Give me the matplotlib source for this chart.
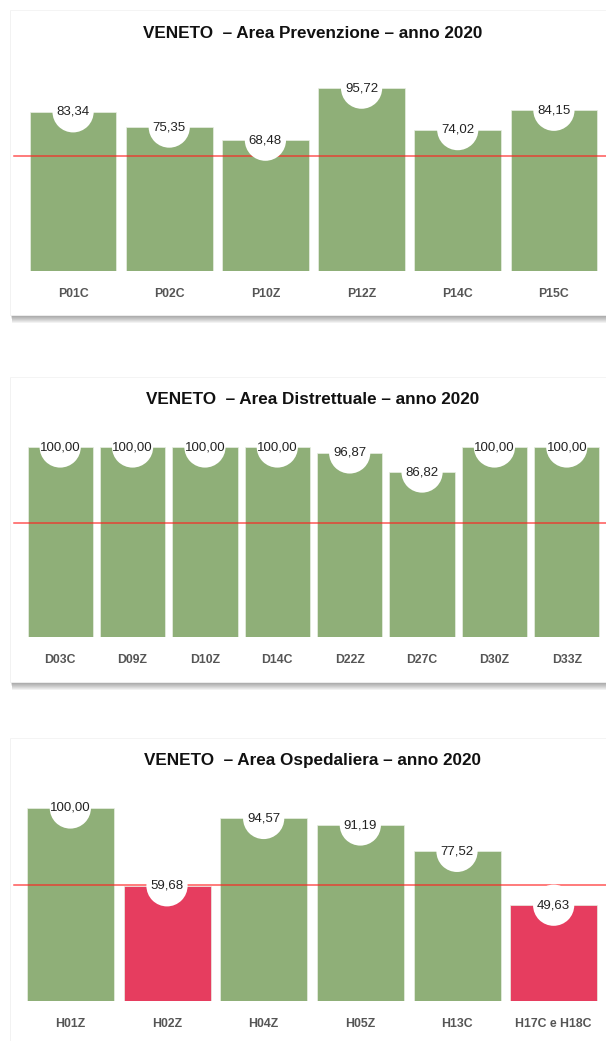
import matplotlib
matplotlib.use("Agg")
import matplotlib.pyplot as plt
from matplotlib.patches import Rectangle

plt.rcParams['font.family'] = ['Liberation Sans', 'DejaVu Sans']

# data
titles = ["VENETO  \u2013 Area Prevenzione \u2013 anno 2020",
          "VENETO  \u2013 Area Distrettuale \u2013 anno 2020",
          "VENETO  \u2013 Area Ospedaliera \u2013 anno 2020"]

prev_codes = ["P01C", "P02C", "P10Z", "P12Z", "P14C", "P15C"]
prev_vals = [83.34, 75.35, 68.48, 95.72, 74.02, 84.15]

distr_codes = ["D03C", "D09Z", "D10Z", "D14C", "D22Z", "D27C", "D30Z", "D33Z"]
distr_vals = [100.00, 100.00, 100.00, 100.00, 96.87, 86.82, 100.00, 100.00]

osp_codes = ["H01Z", "H02Z", "H04Z", "H05Z", "H13C", "H17C e H18C"]
osp_vals = [100.00, 59.68, 94.57, 91.19, 77.52, 49.63]

soglia = 60

GREEN = "#8faf78"
RED = "#e63d5f"
W, H = 606, 1041

fig = plt.figure(figsize=(W / 100, H / 100), dpi=100)
fig.patch.set_facecolor("white")


def card(top, bottom):
    # white card with soft shadow below
    x0 = 10 / W
    for i in range(8, 0, -1):
        fig.patches.append(Rectangle((x0 + 0.0005 * i, 1 - (bottom + i) / H), 1.2, (bottom - top) / H,
                                     transform=fig.transFigure, facecolor="#000000",
                                     alpha=0.05, edgecolor="none", zorder=0))
    fig.patches.append(Rectangle((x0, 1 - bottom / H), 1.2, (bottom - top) / H,
                                 transform=fig.transFigure, facecolor="white",
                                 edgecolor="#f2f2f2", linewidth=0.6, zorder=1))


def panel(title, codes, vals, title_y, zero_y, top_y, left_x, right_x, card_top, card_bottom):
    card(card_top, card_bottom)
    n = len(codes)
    step = (right_x - left_x) / n
    ax = fig.add_axes([10 / W, 1 - zero_y / H, (W - 10) / W, (zero_y - top_y) / H])
    ax.set_zorder(2)
    ax.patch.set_visible(False)
    lo = -0.5 - (left_x - 14) / step
    hi = n - 0.5 + (W - right_x) / step
    ax.set_xlim(lo - (14 - 10) / step, hi)
    ax.set_ylim(0, 100)
    x = list(range(n))
    colors = [GREEN if v >= soglia else RED for v in vals]
    ax.bar(x, vals, width=0.9, color=colors, edgecolor="#e9efe4", linewidth=0.5, zorder=2)
    ax.axhline(soglia, xmin=(4 / step) / (hi - lo + 4 / step), color="#ff1f1f",
               linewidth=1.1, alpha=0.75, zorder=3)
    ax.scatter(x, vals, s=880, color="white", edgecolors="none", zorder=4, clip_on=False)
    for xi, v in zip(x, vals):
        ax.text(xi, v, f"{v:.2f}".replace(".", ","), ha="center", va="center",
                fontsize=9.5, color="#222222", zorder=5)
    ax.set_xticks(x)
    ax.set_xticklabels(codes, fontsize=8.8, fontweight="bold", color="#555555")
    ax.tick_params(axis="x", length=0, pad=12)
    ax.set_yticks([])
    for s in ax.spines.values():
        s.set_visible(False)
    fig.text(0.5 + 10 / W, 1 - title_y / H, title, ha="center", va="center",
             fontsize=12.3, fontweight="bold", color="#111111", zorder=6)


panel(titles[0], prev_codes, prev_vals, 33, 271, 80, 25, 602, 10, 315)
panel(titles[1], distr_codes, distr_vals, 400, 637, 447, 24, 603, 377, 682)
panel(titles[2], osp_codes, osp_vals, 761, 1001, 808, 22, 602, 738, 1060)

fig.savefig("out.png", dpi=100)
